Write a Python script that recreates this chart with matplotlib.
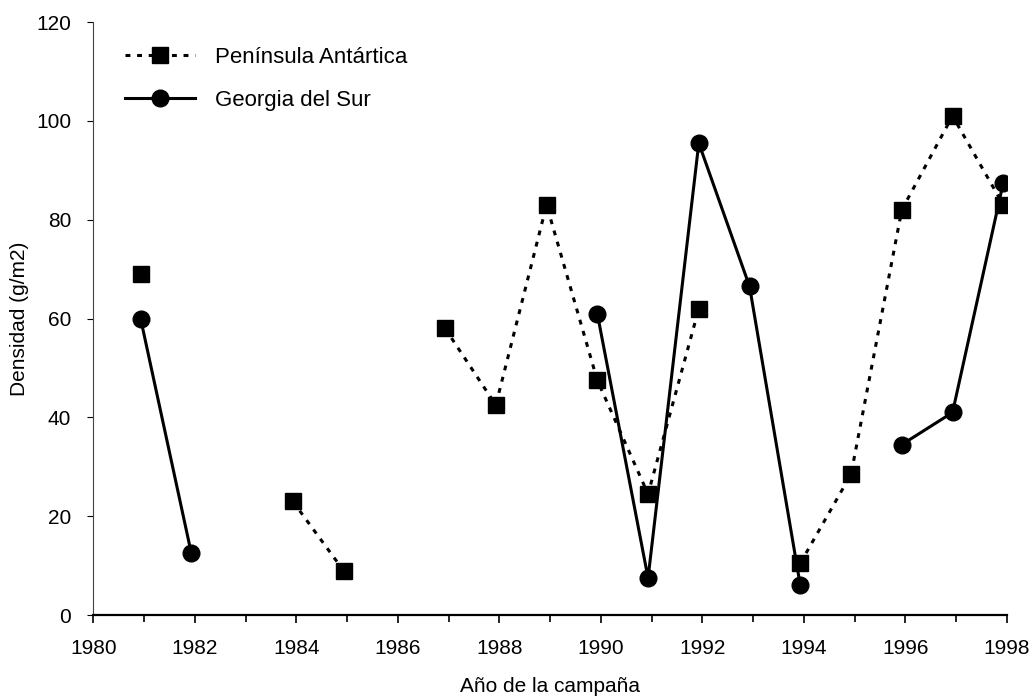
import numpy as np
import matplotlib.pyplot as plt
import matplotlib.transforms as mtransforms
from matplotlib.ticker import MultipleLocator

plt.rcParams['font.family'] = ['Liberation Sans', 'DejaVu Sans']

# Años de campaña y densidades (NaN = sin dato)
anios = list(range(1981, 1999))
peninsula = [69, np.nan, np.nan, 23, 9, np.nan, 58, 42.5, 83, 47.5,
             24.5, 62, np.nan, 10.5, 28.5, 82, 101, 83]
georgia = [60, 12.5, np.nan, np.nan, np.nan, np.nan, np.nan, np.nan, np.nan, 61,
           7.5, 95.5, 66.5, 6, np.nan, 34.5, 41, 87.5]

fig = plt.figure(figsize=(10.36, 6.99), dpi=100)
ax = fig.add_axes([0.0901, 0.120, 0.8817, 0.8485])

# en el original los puntos quedan un poco a la izquierda de cada marca
desplaz = mtransforms.offset_copy(ax.transData, fig=fig, x=-3.5, y=0, units='dots')

ax.plot(anios, peninsula, color='black', lw=2.2, linestyle=(0, (1.6, 2.2)),
        marker='s', markersize=12, transform=desplaz, label='Península Antártica')
ax.plot(anios, georgia, color='black', lw=2.2, linestyle='-',
        marker='o', markersize=12, transform=desplaz, label='Georgia del Sur')

ax.set_xlim(1980, 1998)
ax.set_ylim(0, 120)
ax.xaxis.set_major_locator(MultipleLocator(2))
ax.xaxis.set_minor_locator(MultipleLocator(1))
ax.yaxis.set_major_locator(MultipleLocator(20))

for s in ['top', 'right']:
    ax.spines[s].set_visible(False)
ax.spines['bottom'].set_linewidth(1.6)
ax.spines['left'].set_linewidth(0.8)
ax.spines['left'].set_color('#444444')

ax.tick_params(axis='x', which='major', length=6, width=1.2, labelsize=15, pad=11)
ax.tick_params(axis='x', which='minor', length=5, width=1.2)
ax.tick_params(axis='y', which='major', length=4, width=0.8, labelsize=15, pad=12)

ax.set_xlabel('Año de la campaña', fontsize=15, labelpad=14)
ax.set_ylabel('Densidad (g/m2)', fontsize=15, labelpad=5)

ax.legend(loc='upper left', bbox_to_anchor=(0.013, 0.992), frameon=False,
          fontsize=16, handlelength=3.15, handletextpad=0.9, labelspacing=1.0)

fig.savefig('out.png', dpi=100)
